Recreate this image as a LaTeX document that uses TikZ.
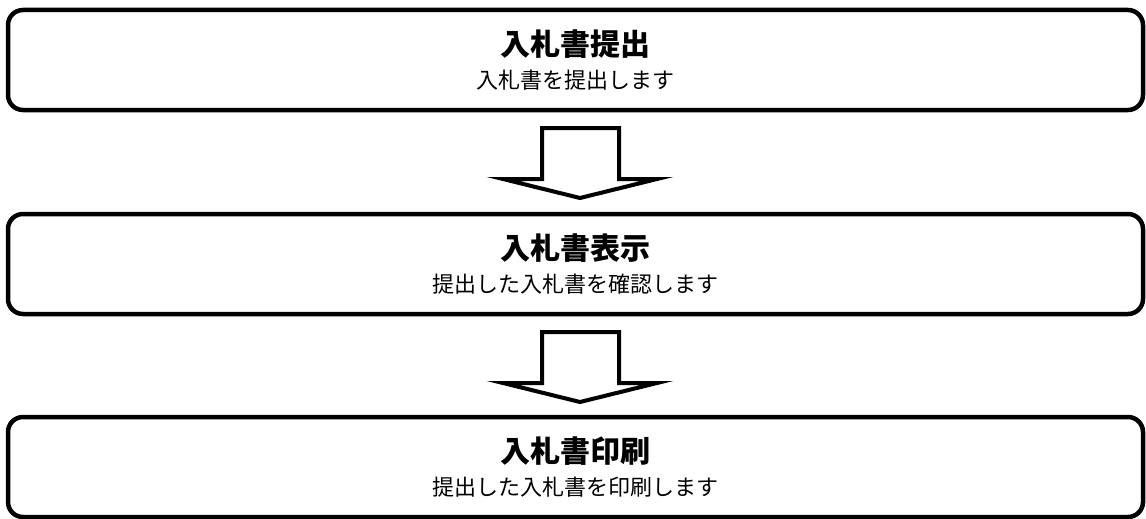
\documentclass[tikz,border=0pt]{standalone}
\usepackage{fontspec}
\usepackage{tikz}
\newfontfamily\jpfont{Noto Sans CJK JP}
\newcommand{\steptitle}[1]{{\fontsize{30}{36}\selectfont\bfseries #1}}
\newcommand{\stepnote}[1]{{\fontsize{22}{26}\selectfont #1}}

\begin{document}
\begin{tikzpicture}
[x=1pt,y=-1pt,
stepbox/.style={draw,line width=4.5pt,rounded corners=15pt,minimum width=1135pt,minimum height=100pt,align=center,inner sep=0pt,font=\jpfont},
flowarrow/.style={draw,line width=4pt,line join=miter,fill=white}]
\useasboundingbox (0,0) rectangle (1146,519);

\node[stepbox](box1) at (575.5,60) {\steptitle{入札書提出}\\[11pt]\stepnote{入札書を提出します}};
\node[stepbox](box2) at (575.5,264) {\steptitle{入札書表示}\\[11pt]\stepnote{提出した入札書を確認します}};
\node[stepbox](box3) at (575.5,467) {\steptitle{入札書印刷}\\[11pt]\stepnote{提出した入札書を印刷します}};

%\draw[flowarrow] (box1) -- (box2);
\foreach \y in {128,332}
  \draw[flowarrow] (542,\y) -- (619,\y) -- (619,\y+51) -- (657,\y+51) -- (580,\y+70) -- (503,\y+51) -- (542,\y+51) -- cycle;

\end{tikzpicture}
\end{document}
